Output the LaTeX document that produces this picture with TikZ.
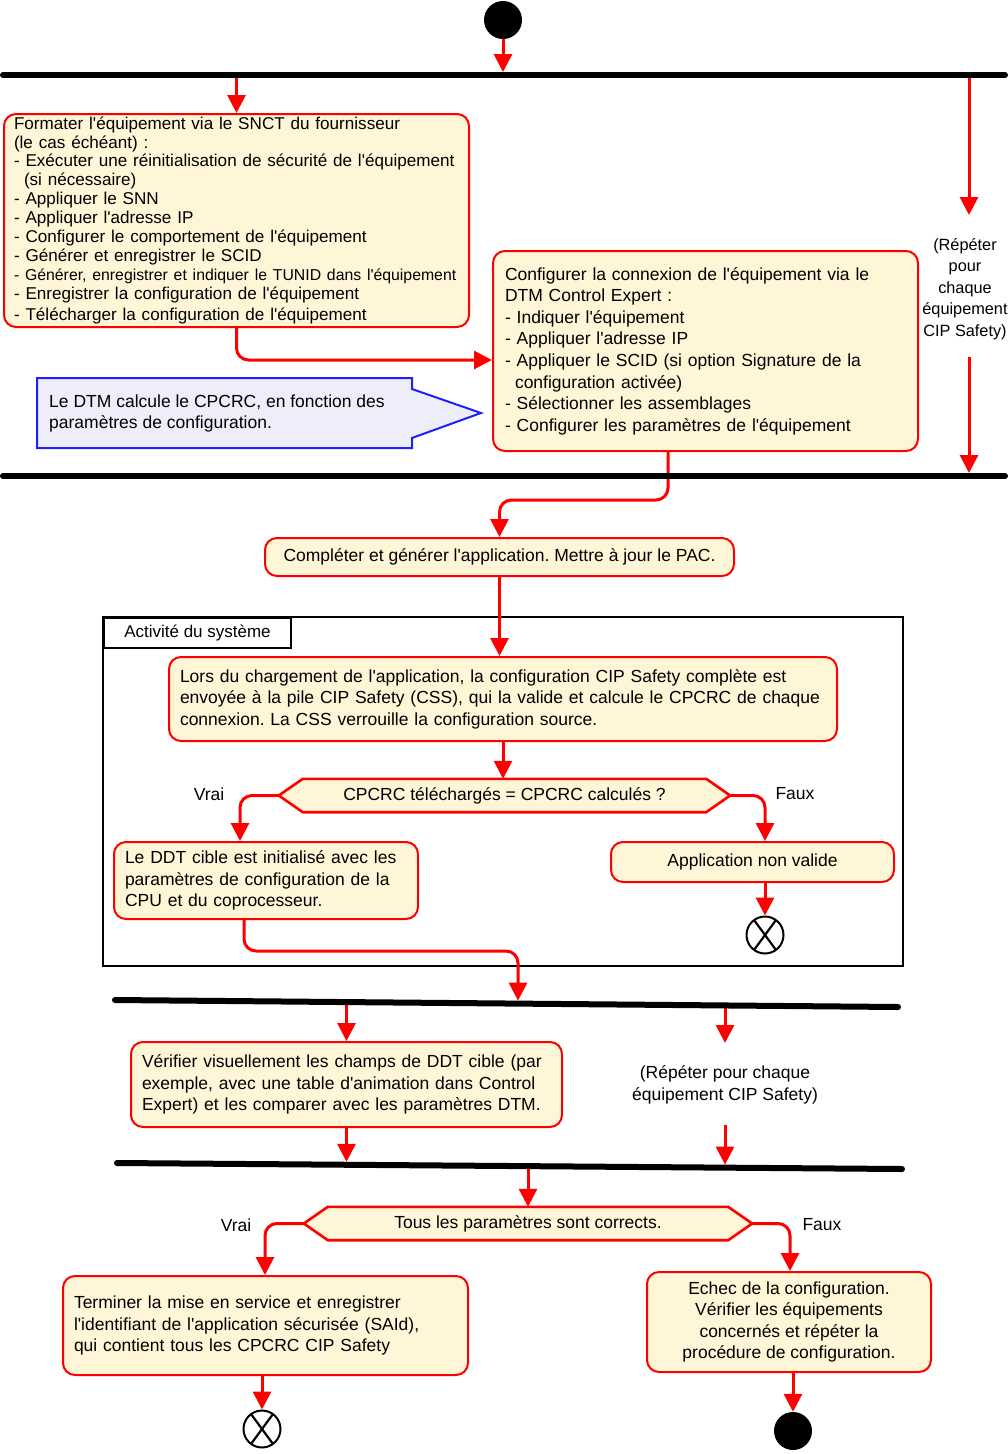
\documentclass[tikz,border=0pt]{standalone}
\usepackage{fontspec}
\setmainfont{Liberation Sans}[Ligatures=TeXOff]
\usetikzlibrary{arrows.meta,calc,backgrounds}
\definecolor{cream}{RGB}{255,245,215}
\definecolor{callfill}{RGB}{238,238,250}
\definecolor{callblue}{RGB}{30,30,255}
\definecolor{fred}{RGB}{255,0,0}
\newcommand{\oneline}[1]{\mbox{#1}}
\begin{document}
\frenchspacing
\begin{tikzpicture}[x=1pt,y=-1pt,
 box/.style={draw=fred, fill=cream, line width=2pt, rounded corners=12pt, inner xsep=11pt, inner ysep=0pt, align=left, font=\fontsize{17.5}{21.6}\selectfont},
 flow/.style={draw=fred, line width=3pt, -{Triangle[length=18pt,width=18pt]}, rounded corners=12pt},
 bar/.style={line width=6pt, line cap=round, black},
 lbl/.style={font=\fontsize{17.5}{21.6}\selectfont, inner sep=0pt, align=center},
 hex/.style={draw=fred, fill=cream, line width=2.6pt, line join=miter},
 xend/.style={circle, draw=black, fill=white, line width=2pt, minimum size=37pt, inner sep=0pt,
   path picture={\draw[line width=2.2pt] ([shift={(-11pt,-15pt)}]path picture bounding box.center) -- ([shift={(11pt,15pt)}]path picture bounding box.center);
                 \draw[line width=2.2pt] ([shift={(11pt,-15pt)}]path picture bounding box.center) -- ([shift={(-11pt,15pt)}]path picture bounding box.center);}},
 dot/.style={circle, fill=black, minimum size=38pt, inner sep=0pt},
]
\useasboundingbox (0,0) rectangle (1008,1454);

% frame
\draw[line width=2pt] (103,617) rectangle (903,966);
\node[draw, line width=2pt, minimum width=187pt, minimum height=30pt, anchor=north west, inner sep=0pt, font=\fontsize{17}{20}\selectfont] (tab) at (103,617) {Activité du système};

% nodes
\node[dot] (start) at (503,20) {};

\node[box, inner xsep=10pt, minimum width=465pt, minimum height=213pt, text width=445pt] (box1) at (236.5,220.5) {\fontsize{17.1}{18.9}\selectfont
\oneline{Formater l'équipement via le SNCT du fournisseur}\\
\oneline{(le cas échéant) :}\\
\oneline{- Exécuter une réinitialisation de sécurité de l'équipement}\\
\oneline{\hspace*{10pt}(si nécessaire)}\\
\oneline{- Appliquer le SNN}\\
\oneline{- Appliquer l'adresse IP}\\
\oneline{- Configurer le comportement de l'équipement}\\
\oneline{- Générer et enregistrer le SCID}\\
\oneline{\fontsize{15.8}{18.9}\selectfont - Générer, enregistrer et indiquer le TUNID dans l'équipement}\\
\oneline{- Enregistrer la configuration de l'équipement}\\
\oneline{- Télécharger la configuration de l'équipement}};

\node[box, inner xsep=12pt, minimum width=425pt, minimum height=200pt, text width=401pt] (box2) at (705.5,351) {Configurer la connexion de l'équipement via le\\
DTM Control Expert :\\
- Indiquer l'équipement\\
- Appliquer l'adresse IP\\
- Appliquer le SCID (si option Signature de la\\
\hspace*{10pt}configuration activée)\\
- Sélectionner les assemblages\\
- Configurer les paramètres de l'équipement};

\draw[draw=callblue, fill=callfill, line width=2pt] (37,378) -- (412,378) -- (412,389) -- (481,413) -- (412,438) -- (412,448) -- (37,448) -- cycle;
\node[lbl, align=left, anchor=west] (callout) at (49,413.5) {Le DTM calcule le CPCRC, en fonction des\\paramètres de configuration.};

\node[box, align=center, minimum width=469pt, minimum height=38pt] (box3) at (499.5,557) {Compléter et générer l'application. Mettre à jour le PAC.};

\node[box, minimum width=668pt, minimum height=84pt, text width=646pt] (box4) at (503,699) {Lors du chargement de l'application, la configuration CIP Safety complète est\\
envoyée à la pile CIP Safety (CSS), qui la valide et calcule le CPCRC de chaque\\
connexion. La CSS verrouille la configuration source.};

\node[lbl, minimum width=451pt, minimum height=33pt] (d1) at (504.5,795.5) {CPCRC téléchargés = CPCRC calculés ?};

\node[box, minimum width=304pt, minimum height=77pt, text width=282pt] (box5) at (266,880.5) {Le DDT cible est initialisé avec les\\
paramètres de configuration de la\\
CPU et du coprocesseur.};

\node[box, align=center, minimum width=283pt, minimum height=40pt] (box6) at (752.5,862) {Application non valide};

\node[xend] (x1) at (765,935) {};

\node[box, minimum width=431pt, minimum height=85pt, text width=409pt] (box7) at (346.5,1084.5) {Vérifier visuellement les champs de DDT cible (par\\
exemple, avec une table d'animation dans Control\\
Expert) et les comparer avec les paramètres DTM.};

\node[lbl, minimum width=448pt, minimum height=33pt] (d2) at (528,1223.5) {Tous les paramètres sont corrects.};

\node[box, minimum width=405pt, minimum height=99pt, text width=383pt] (box8) at (265.5,1325.5) {Terminer la mise en service et enregistrer\\
l'identifiant de l'application sécurisée (SAId),\\
qui contient tous les CPCRC CIP Safety};

\node[box, align=center, minimum width=284pt, minimum height=100pt] (box9) at (789,1322) {Echec de la configuration.\\
Vérifier les équipements\\
concernés et répéter la\\
procédure de configuration.};

\node[xend] (x2) at (262,1429) {};
\node[dot] (endn) at (793,1431) {};

% labels
\node[lbl] (vrai1) at (209,794) {Vrai};
\node[lbl] (faux1) at (795,794) {Faux};
\node[lbl] (vrai2) at (236,1225) {Vrai};
\node[lbl] (faux2) at (822,1225) {Faux};
\node[lbl, font=\fontsize{16.3}{21.5}\selectfont] (rep1) at (965,289) {(Répéter\\pour\\chaque\\équipement\\CIP Safety)};
\node[lbl] (rep2) at (725,1085) {(Répéter pour chaque\\équipement CIP Safety)};

\coordinate (r1top) at (969,215);
\coordinate (r1bot) at (969,357);
\coordinate (r2top) at (725,1043);
\coordinate (r2bot) at (725,1125);

% hexagons
\begin{scope}[on background layer]
\foreach \d in {d1,d2}
  \draw[hex] (\d.west) -- ([xshift=24pt]\d.north west) -- ([xshift=-24pt]\d.north east) -- (\d.east) -- ([xshift=-24pt]\d.south east) -- ([xshift=24pt]\d.south west) -- cycle;
\end{scope}

% connectors
\draw[flow] (start) -- (start |- 0,72);
\draw[flow] (box1.north |- 0,75) -- (box1.north);
\draw[flow] (r1top |- 0,75) -- (r1top);
\draw[flow] (r1bot) -- (969,473);
\draw[flow] (box1.south) -- (box1.south |- 0,360) -- (box2.west |- 0,360);
\draw[flow] (box2.south -| 668,0) -- (668,500) -- (box3.north |- 0,500) -- (box3.north);
\draw[flow] (box3.south) -- (box3.south |- box4.north);
\draw[flow] (box4.south) -- (box4.south |- d1.north);
\draw[flow] (d1.west) -| (box5.north -| 240,0);
\draw[flow] (d1.east) -| (box6.north -| 765,0);
\draw[flow] (box6.south -| 765,0) -- (x1.north);
\draw[flow] (box5.south -| 244,0) -- (244,951) -- (518,951) -- (518,1000.6);
\draw[flow] (box7.north |- 0,1002) -- (box7.north);
\draw[flow] (r2top |- 0,1005.5) -- (r2top);
\draw[flow] (r2bot) -- (725,1164.6);
\draw[flow] (box7.south) -- (box7.south |- 0,1161.8);
\draw[flow] (d2.north |- 0,1166) -- (d2.north);
\draw[flow] (d2.west) -| (box8.north -| 265,0);
\draw[flow] (d2.east) -| (box9.north -| 790,0);
\draw[flow] (box8.south -| 262,0) -- (x2.north);
\draw[flow] (box9.south -| 793,0) -- (endn.north);

% bars
\draw[bar] (3,75) -- (1005,75);
\draw[bar] (3,476) -- (1005,476);
\draw[bar] (115,1000) -- (898,1007);
\draw[bar] (117,1163) -- (902,1169);
\end{tikzpicture}
\end{document}
